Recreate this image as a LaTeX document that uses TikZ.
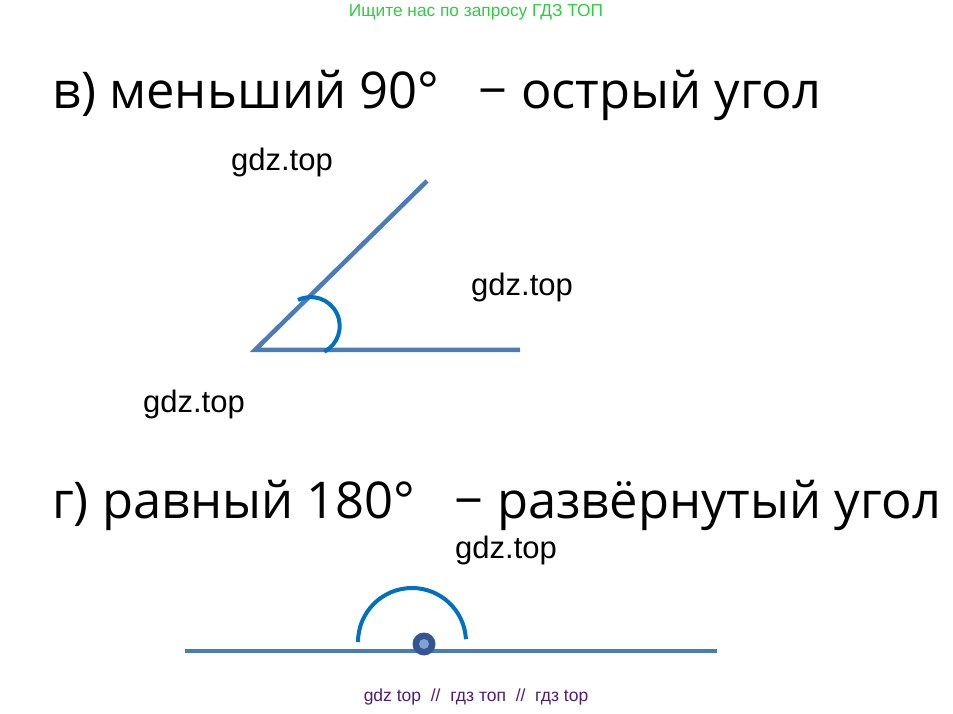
\documentclass[tikz,border=0pt]{standalone}
\usepackage{fontspec}
\setmainfont{Liberation Sans}
\newfontfamily\headfont{Open Sans}
\definecolor{raycol}{RGB}{74,124,186}
\definecolor{arccol}{RGB}{0,112,192}
\definecolor{dotcol}{RGB}{52,84,148}
\definecolor{topgreen}{RGB}{46,204,64}
\definecolor{botpurple}{RGB}{76,28,124}
\begin{document}
\begin{tikzpicture}[
    x=1pt,y=1pt,
    head/.style={font=\headfont\fontsize{50.7}{60}\selectfont,anchor=west,inner sep=0pt},
    mark label/.style={font=\fontsize{31}{36}\selectfont,inner sep=0pt},
    ray/.style={raycol,line width=4.5pt},
    anglearc/.style={arccol,line width=4pt}
]
\useasboundingbox (0,0) rectangle (953,713);

% Header and footer
\node[font=\fontsize{17.3}{20}\selectfont,text=topgreen] (top) at (476,701) {Ищите нас по запросу ГДЗ ТОП};
\node[font=\fontsize{17.5}{20}\selectfont,text=botpurple] (bottom) at (476,16) {gdz top \ // \ гдз топ \ // \ гдз top};

% Acute angle
\node[head] (H1) at (52,618) {в) меньший 90°\hspace{0.78em}− острый угол};

\coordinate (V) at (255,363);
\coordinate (B) at (520,363);
\coordinate (R) at (427,532);
\draw[ray] (B) -- (V) -- (R);

\coordinate (A1) at (298,413);
\draw[anglearc] (A1) arc[start angle=116,end angle=-62,radius=29pt];

\node[mark label] (L1) at (282,551) {gdz.top};
\node[mark label] (L2) at (522,426) {gdz.top};
\node[mark label] (L3) at (194,309) {gdz.top};

% Straight angle
\node[head] (H2) at (52,208) {г) равный 180°\hspace{0.78em}− развёрнутый угол};
\node[mark label] (L4) at (506,163) {gdz.top};

\coordinate (S1) at (185,62);
\coordinate (S2) at (717,62);
\draw[ray] (S1) -- (S2);

\coordinate (A2) at (358,71);
\draw[anglearc] (A2) arc[start angle=180,end angle=3,radius=54pt];

\node[circle,fill=dotcol,inner sep=0pt,minimum size=23pt] (O) at (424,69) {};
\fill[raycol!70!white] (O.center) circle (5pt);

\end{tikzpicture}
\end{document}
